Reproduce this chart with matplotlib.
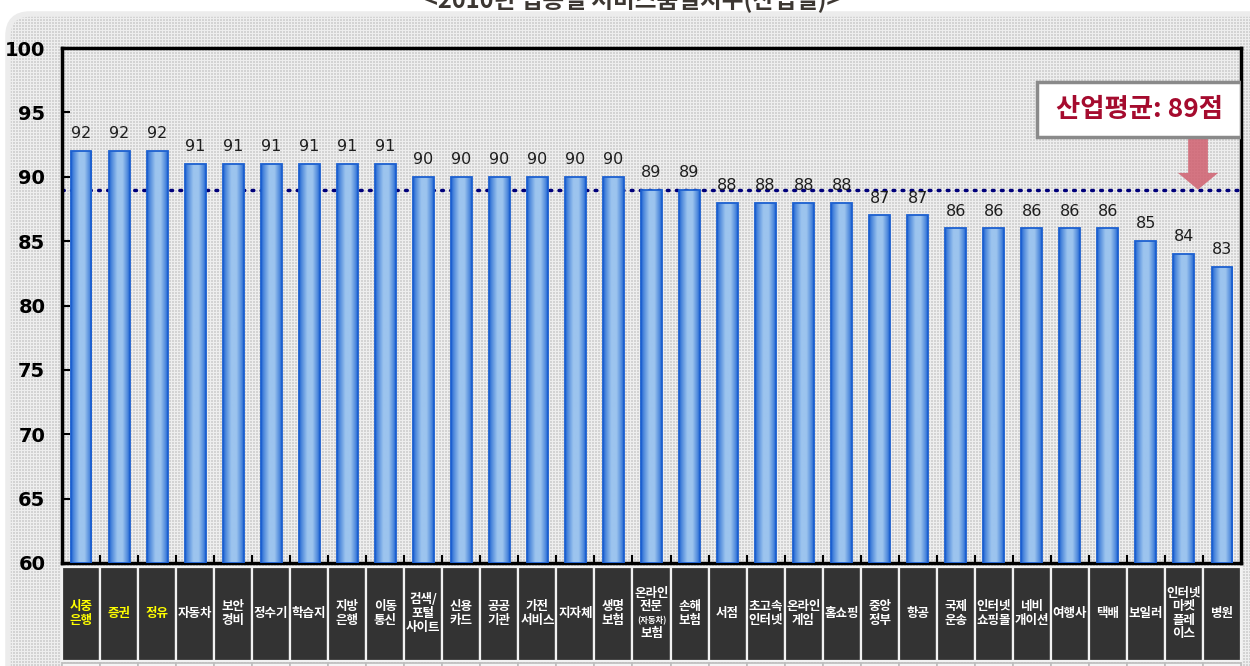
import numpy as np
import matplotlib.pyplot as plt
from matplotlib import transforms
from matplotlib.patches import Rectangle, FancyBboxPatch, Polygon

plt.rcParams['font.family'] = ['Noto Sans CJK KR', 'DejaVu Sans']

# 산업별 서비스품질지수
categories = ['시중\n은행', '증권', '정유', '자동차', '보안\n경비', '정수기', '학습지',
              '지방\n은행', '이동\n통신', '검색/\n포털\n사이트', '신용\n카드', '공공\n기관',
              '가전\n서비스', '지자체', '생명\n보험', '온라인\n전문\n(자동차)\n보험', '손해\n보험',
              '서점', '초고속\n인터넷', '온라인\n게임', '홈쇼핑', '중앙\n정부', '항공',
              '국제\n운송', '인터넷\n쇼핑몰', '네비\n개이션', '여행사', '택배', '보일러',
              '인터넷\n마켓\n플레\n이스', '병원']
scores = [92, 92, 92, 91, 91, 91, 91, 91, 91, 90, 90, 90, 90, 90, 90, 89, 89,
          88, 88, 88, 88, 87, 87, 86, 86, 86, 86, 86, 85, 84, 83]
highlight = ['시중\n은행', '증권', '정유']
avg_score = 89
yticks = [60, 65, 70, 75, 80, 85, 90, 95, 100]
title = '<2010년 업종별 서비스품질지수(산업별)>'

W, H = 1250, 666
fig = plt.figure(figsize=(W / 100, H / 100), dpi=100, facecolor='white')

# patterned panel background
bg = fig.add_axes([0, 0, 1, 1], zorder=-1)
bg.set_axis_off()
yy, xx = np.mgrid[0:H, 0:W]
pat = np.where((yy % 3 == 0) | (xx % 3 == 0), 0.93, 0.83)
img = bg.imshow(pat, cmap='gray', vmin=0, vmax=1, extent=[0, W, H, 0],
                interpolation='nearest', aspect='auto')
bg.set_xlim(0, W)
bg.set_ylim(H, 0)
panel = FancyBboxPatch((8, 14), W + 40, H + 40, boxstyle='round,pad=0,rounding_size=22',
                       transform=bg.transData, facecolor='none', edgecolor='#ececec', lw=4)
bg.add_patch(panel)
img.set_clip_path(panel)

fig.text(0.506, 1 - 8 / H, title, ha='center', va='baseline', fontsize=17,
         color='#3c3732', fontweight='bold')

ax = fig.add_axes([62 / W, 1 - 563 / H, 1179 / W, 515 / H], zorder=1)
ax.set_facecolor('none')

x = np.arange(len(categories))
vals = np.array(scores)

# average line behind the bars
ax.axhline(avg_score, color='#00007a', lw=2.5, linestyle=(0, (0.5, 2.1)),
           dash_capstyle='round', zorder=1)

bars = ax.bar(x, vals - 60, bottom=60, width=0.55, color='none',
              edgecolor='#1c60d0', lw=1.3, zorder=3)

# horizontal blue gradient inside each bar
t = np.linspace(0, 1, 64)
stops = [0, 0.12, 0.4, 0.65, 0.9, 1]
dark = np.array([0x1c, 0x60, 0xd0]) / 255
light = np.array([0x9c, 0xc4, 0xee]) / 255
mids = np.array([0x4d, 0x88, 0xdc]) / 255
cols = [dark, mids, light, light, mids, dark]
grad = np.stack([np.interp(t, stops, [c[k] for c in cols]) for k in range(3)], axis=-1)
grad = grad[np.newaxis, :, :]
for b in bars:
    x0, y0 = b.get_x(), b.get_y()
    im = ax.imshow(grad, extent=[x0, x0 + b.get_width(), y0, y0 + b.get_height()],
                   aspect='auto', interpolation='bilinear', zorder=2.9)
    im.set_clip_path(b)

for xi, v in zip(x, scores):
    ax.annotate(str(v), (xi, v), xytext=(0, 7), textcoords='offset points',
                ha='center', va='bottom', fontsize=11.5, color='#1e1e1e',
                family='DejaVu Sans')

ax.set_xlim(-0.5, len(categories) - 0.5)
ax.set_ylim(60, 100)
ax.set_yticks(yticks)
ax.set_yticklabels([str(v) for v in yticks], fontsize=14, fontweight='bold',
                   family='DejaVu Sans')
ax.tick_params(axis='y', direction='in', length=6, width=1.5, pad=12, colors='black')
ax.set_xticks(np.arange(len(categories) - 1) + 0.5)
ax.set_xticklabels([])
ax.tick_params(axis='x', direction='in', length=6, width=1.5)
for side in ['left', 'right', 'top', 'bottom']:
    ax.spines[side].set_color('black')
    ax.spines[side].set_linewidth(2.5)

# category label cells under the axis
trans = transforms.blended_transform_factory(ax.transData, ax.transAxes)
for i, lab in enumerate(categories):
    ax.add_patch(Rectangle((i - 0.5, -0.19), 1, 0.183, transform=trans,
                           facecolor='#333333', edgecolor='#f2f2f2', lw=1.6, clip_on=False))
    ax.add_patch(Rectangle((i - 0.5, -0.26), 1, 0.066, transform=trans,
                           facecolor='#f5f5f5', edgecolor='#bdbdbd', lw=1.2, clip_on=False))
    lines = lab.split('\n')
    n = len(lines)
    color = '#ffff00' if lab in highlight else 'white'
    for k, line in enumerate(lines):
        off = (k - (n - 1) / 2) * 9.8
        tt = trans + transforms.ScaledTranslation(0, -off / 72, fig.dpi_scale_trans)
        small = line.startswith('(')
        ax.text(i, -0.098, line, transform=tt, ha='center', va='center',
                fontsize=6 if small else 9, fontweight='bold', color=color, clip_on=False)

# industry average callout
ax.add_patch(Rectangle((0.827, 0.827), 0.173, 0.107, transform=ax.transAxes,
                       facecolor='white', edgecolor='#8a8a8a', lw=2.5, zorder=5))
ax.text(0.9135, 0.881, f'산업평균: {avg_score}점', transform=ax.transAxes,
        ha='center', va='center', fontsize=19, fontweight='bold', color='#a50b2e', zorder=6)
xa = 29.37
arrow = [(xa - 0.26, 93.09), (xa + 0.26, 93.09), (xa + 0.26, 90.3), (xa + 0.53, 90.3),
         (xa, avg_score), (xa - 0.53, 90.3), (xa - 0.26, 90.3)]
ax.add_patch(Polygon(arrow, closed=True, facecolor='#d0606f', edgecolor='none',
                     alpha=0.85, zorder=4))

fig.savefig('out.png', dpi=100)
